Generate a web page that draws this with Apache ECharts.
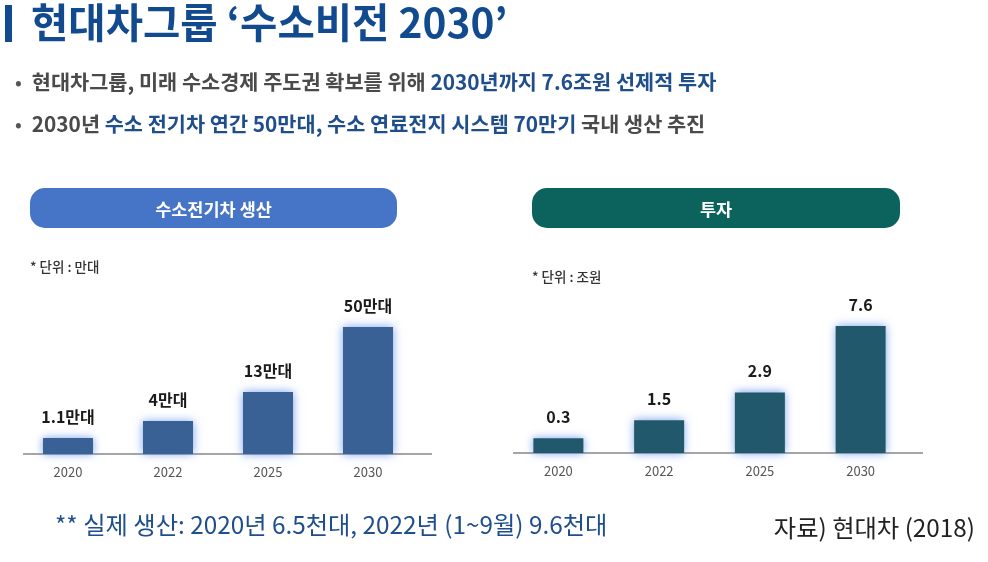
<!DOCTYPE html>
<html><head><meta charset="utf-8">
<script src="https://cdn.jsdelivr.net/npm/echarts@6/dist/echarts.min.js"></script>
<style>html,body{margin:0;padding:0;background:#fff}#c{width:988px;height:562px}</style>
</head><body><div id="c"></div>
<script>
const years = ['2020', '2022', '2025', '2030'];
const fcevProduction = [1.1, 4, 13, 50];      // 만대
const investment = [0.3, 1.5, 2.9, 7.6];      // 조원
// relative bar heights as drawn in the infographic (tallest = 100)
const drawnHeightLeft = [12.6, 26, 48.8, 100];
const drawnHeightRight = [11.7, 25.8, 47.7, 100];

const FONT = '"Noto Sans CJK KR", "Noto Sans", sans-serif';
const chart = echarts.init(document.getElementById('c'));

function barSeries(idx, heights, values, unit, color) {
  return {
    type: 'bar', xAxisIndex: idx, yAxisIndex: idx, barWidth: 50,
    data: heights,
    itemStyle: { color: color, shadowBlur: 9, shadowColor: 'rgba(70,125,230,0.75)' },
    label: {
      show: true, position: 'top', distance: 13,
      formatter: p => values[p.dataIndex] + unit,
      color: '#1a1a1a', fontFamily: FONT, fontWeight: 'bold', fontSize: 16
    },
    silent: true, animation: false
  };
}
function xAx(idx) {
  return {
    type: 'category', gridIndex: idx, data: years,
    axisLine: { show: false }, axisTick: { show: false },
    axisLabel: { color: '#555', fontFamily: FONT, fontSize: 13, margin: 12 }
  };
}
function yAx(idx) {
  return { type: 'value', gridIndex: idx, min: 0, max: 100, show: false };
}
function pill(x, w, color, text) {
  return {
    type: 'group', children: [
      { type: 'rect', shape: { x: x, y: 188, width: w, height: 40, r: 15 }, style: { fill: color } },
      { type: 'text', x: x + w / 2, y: 209, style: { text: text, fill: '#fff', font: 'bold 17.5px ' + FONT, align: 'center', verticalAlign: 'middle' } }
    ]
  };
}
const bulletRich = {
  d: { color: '#555', fontFamily: FONT, fontSize: 18 },
  g: { color: '#4a4a4a', fontFamily: FONT, fontWeight: 'bold', fontSize: 20.8 },
  b: { color: '#1f4e8c', fontFamily: FONT, fontWeight: 'bold', fontSize: 20.8 }
};

chart.setOption({
  animation: false,
  backgroundColor: '#fff',
  grid: [
    { left: 18, width: 400, top: 327, bottom: 108 },
    { left: 508, width: 403, top: 326, bottom: 109 }
  ],
  xAxis: [xAx(0), xAx(1)],
  yAxis: [yAx(0), yAx(1)],
  series: [
    barSeries(0, drawnHeightLeft, fcevProduction, '만대', '#3a6196'),
    barSeries(1, drawnHeightRight, investment, '', '#22586b')
  ],
  title: [
    { text: '현대차그룹 ‘수소비전 2030’', left: 31, top: 1, padding: 0,
      textStyle: { color: '#124a8f', fontFamily: FONT, fontWeight: 'bold', fontSize: 40.6, lineHeight: 44 } },
    { text: '{d|•}  {g|현대차그룹, 미래 수소경제 주도권 확보를 위해 }{b|2030년까지 7.6조원 선제적 투자}', left: 15, top: 72, padding: 0,
      textStyle: { rich: bulletRich } },
    { text: '{d|•}  {g|2030년 }{b|수소 전기차 연간 50만대, 수소 연료전지 시스템 70만기}{g| 국내 생산 추진}', left: 15, top: 114, padding: 0,
      textStyle: { rich: bulletRich } },
    { text: '* 단위 : 만대', left: 30, top: 260, padding: 0,
      textStyle: { color: '#333', fontFamily: FONT, fontWeight: 500, fontSize: 13.5 } },
    { text: '* 단위 : 조원', left: 532, top: 270, padding: 0,
      textStyle: { color: '#333', fontFamily: FONT, fontWeight: 500, fontSize: 13.5 } },
    { text: '** 실제 생산: 2020년 6.5천대, 2022년 (1~9월) 9.6천대', left: 55, top: 513, padding: 0,
      textStyle: { color: '#1f4e8c', fontFamily: FONT, fontWeight: 'normal', fontSize: 24.3 } },
    { text: '자료) 현대차 (2018)', right: 13, top: 516, padding: 0,
      textStyle: { color: '#222', fontFamily: FONT, fontWeight: 'normal', fontSize: 24.3 } }
  ],
  graphic: [
    { type: 'rect', shape: { x: 5, y: 5, width: 7, height: 37 }, style: { fill: '#124a8f' } },
    pill(30, 367, '#4674c6', '수소전기차 생산'),
    pill(532, 368, '#0c625d', '투자'),
    { type: 'line', shape: { x1: 23, y1: 454, x2: 432, y2: 454 }, style: { stroke: '#888', lineWidth: 1.3 } },
    { type: 'line', shape: { x1: 513, y1: 453, x2: 923, y2: 453 }, style: { stroke: '#888', lineWidth: 1.3 } }
  ]
});
</script></body></html>
